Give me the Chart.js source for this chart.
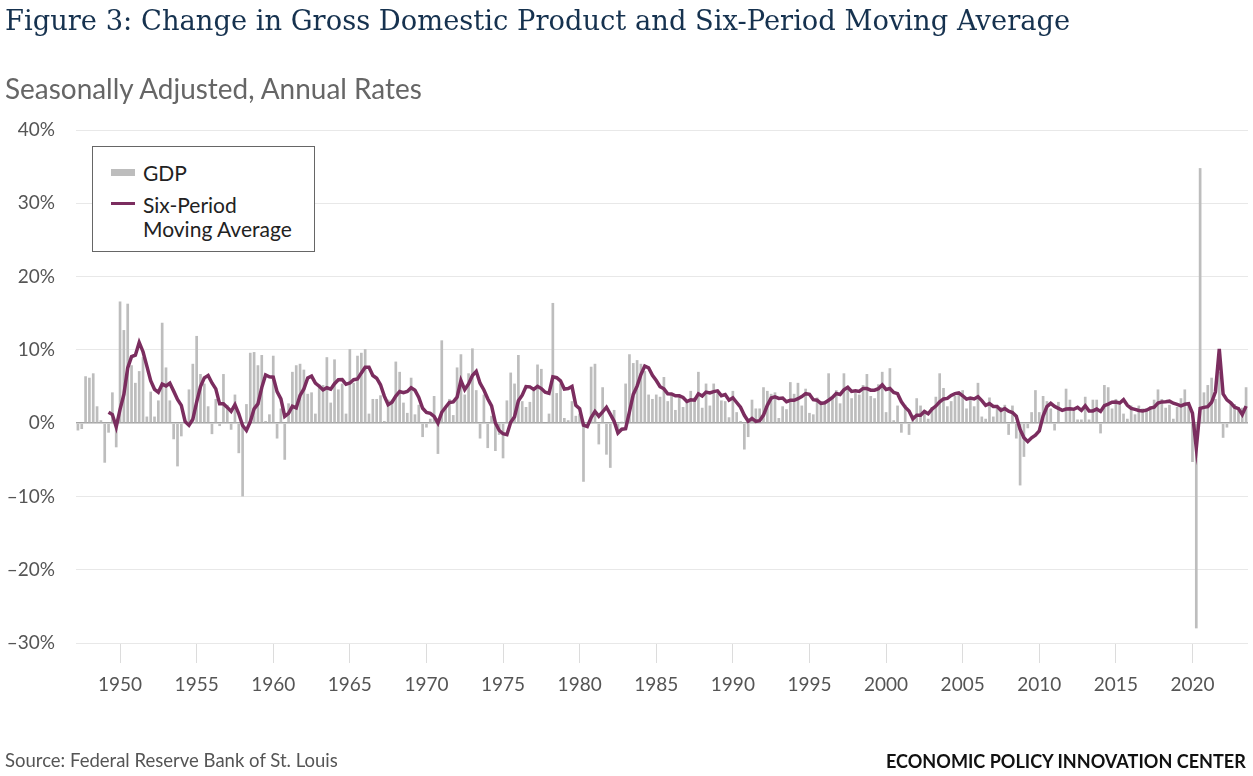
<!DOCTYPE html>
<html>
<head>
<meta charset="utf-8">
<title>Change in GDP and Six-Period Moving Average</title>
<script src="https://cdn.jsdelivr.net/npm/chart.js@4.4.0/dist/chart.umd.min.js"></script>
<style>
  html, body { margin: 0; padding: 0; background: #fff; }
  #page { position: relative; width: 1253px; height: 776px; overflow: hidden; }
  #chart { position: absolute; left: 0; top: 0; }
  .txt { position: absolute; white-space: nowrap; line-height: 1; }
  #title { font-family: "DejaVu Serif", serif; color: #16324f; font-size: 26px; left: 5px; }
  #subtitle { font-family: Lato, sans-serif; color: #666; font-size: 25px; left: 5px; }
  #source { font-family: Lato, sans-serif; color: #555; font-size: 19px; left: 5px; }
  #brand { font-family: Lato, sans-serif; font-weight: 700; color: #111; font-size: 20px; }
  #legend { position: absolute; left: 92px; top: 146px; width: 221px; height: 104px;
            border: 1px solid #666; background: #fff; font-family: Lato, sans-serif;
            font-size: 21px; color: #222; }
  #legend .sw { position: absolute; left: 18px; width: 24px; }
  #legend .lab { position: absolute; left: 50px; line-height: 1; }
</style>
</head>
<body>
<div id="page">
  <canvas id="chart" width="1253" height="776"></canvas>
  <div id="title" class="txt">Figure 3: Change in Gross Domestic Product and Six-Period Moving Average</div>
  <div id="subtitle" class="txt">Seasonally Adjusted, Annual Rates</div>
  <div id="legend">
    <div class="sw" style="top:22px;height:7px;background:#bdbdbd;"></div>
    <div class="lab" style="top:15px;">GDP</div>
    <div class="sw" style="top:55px;height:3px;background:#7b2d5f;"></div>
    <div class="lab" style="top:47px;">Six-Period</div>
    <div class="lab" style="top:71px;">Moving Average</div>
  </div>
  <div id="source" class="txt">Source: Federal Reserve Bank of St. Louis</div>
  <div id="brand" class="txt">ECONOMIC POLICY INNOVATION CENTER</div>
</div>

<script>
// Real GDP, percent change from preceding quarter, annual rate (1947 Q2 - 2023 Q3)
const gdp = [
  -1.0, -0.8, 6.4,            // 1947
  6.2, 6.8, 2.3, 0.4,         // 1948
  -5.4, -1.3, 4.2, -3.3,      // 1949
  16.6, 12.7, 16.3, 7.9,      // 1950
  5.5, 7.1, 9.0, 0.9,         // 1951
  4.3, 0.9, 3.1, 13.7,        // 1952
  7.6, 3.1, -2.2, -5.9,       // 1953
  -1.8, 0.4, 4.6, 8.1,        // 1954
  11.9, 6.7, 5.4, 2.3,        // 1955
  -1.5, 3.3, -0.4, 6.7,       // 1956
  2.5, -0.9, 3.9, -4.1,       // 1957
  -10.0, 2.6, 9.6, 9.7,       // 1958
  7.9, 9.3, 0.3, 1.2,         // 1959
  9.2, -2.1, 2.0, -5.0,       // 1960
  2.7, 7.0, 7.9, 8.1,         // 1961
  7.3, 4.0, 4.2, 1.3,         // 1962
  5.3, 5.2, 9.0, 2.8,         // 1963
  8.7, 4.6, 5.4, 1.3,         // 1964
  10.1, 5.5, 9.2, 9.6,        // 1965
  10.1, 1.3, 3.3, 3.3,        // 1966
  3.8, 0.3, 3.2, 3.2,         // 1967
  8.4, 7.0, 2.8, 1.4,         // 1968
  6.2, 1.2, 2.5, -1.9,        // 1969
  -0.6, 0.6, 3.7, -4.2,       // 1970
  11.3, 2.2, 3.3, 1.1,        // 1971
  7.6, 9.4, 3.9, 6.8,         // 1972
  10.2, 4.5, -2.1, 3.9,       // 1973
  -3.4, 1.0, -3.8, -1.6,      // 1974
  -4.8, 3.1, 6.9, 5.4,        // 1975
  9.3, 3.0, 2.2, 2.9,         // 1976
  4.8, 8.0, 7.4, 0.0,         // 1977
  1.3, 16.4, 4.1, 5.4,        // 1978
  0.7, 0.4, 3.0, 1.0,         // 1979
  1.3, -8.0, -0.5, 7.7,       // 1980
  8.1, -2.9, 4.9, -4.3,       // 1981
  -6.1, 1.8, -1.5, 0.2,       // 1982
  5.4, 9.4, 8.2, 8.6,         // 1983
  8.1, 7.1, 3.9, 3.3,         // 1984
  3.9, 3.6, 6.3, 3.0,         // 1985
  3.8, 1.8, 3.9, 2.2,         // 1986
  3.0, 4.4, 3.5, 7.0,         // 1987
  2.1, 5.4, 2.4, 5.4,         // 1988
  4.1, 3.1, 3.0, 0.8,         // 1989
  4.4, 1.5, 0.3, -3.6,        // 1990
  -1.9, 3.2, 2.0, 2.0,        // 1991
  4.9, 4.4, 4.0, 4.2,         // 1992
  0.7, 2.3, 1.9, 5.6,         // 1993
  4.0, 5.5, 2.4, 4.7,         // 1994
  1.4, 1.2, 3.5, 3.0,         // 1995
  2.9, 6.8, 3.6, 4.5,         // 1996
  2.7, 6.8, 5.0, 3.4,         // 1997
  4.1, 3.9, 5.2, 6.7,         // 1998
  3.7, 3.4, 5.3, 7.0,         // 1999
  1.5, 7.5, 0.4, 2.4,         // 2000
  -1.3, 2.5, -1.6, 1.1,       // 2001
  3.4, 2.4, 1.8, 0.6,         // 2002
  2.2, 3.6, 6.8, 4.8,         // 2003
  2.3, 3.0, 3.7, 4.1,         // 2004
  4.5, 2.0, 3.2, 2.3,         // 2005
  5.5, 0.9, 0.6, 3.5,         // 2006
  0.9, 2.3, 2.2, 2.5,         // 2007
  -1.6, 2.4, -2.1, -8.5,      // 2008
  -4.6, -0.7, 1.5, 4.5,       // 2009
  1.5, 3.7, 3.0, 2.0,         // 2010
  -1.0, 2.9, -0.1, 4.7,       // 2011
  3.2, 1.7, 0.5, 0.5,         // 2012
  3.6, 0.5, 3.2, 3.2,         // 2013
  -1.4, 5.2, 4.9, 2.0,        // 2014
  3.3, 2.5, 1.3, 0.6,         // 2015
  2.4, 1.2, 2.4, 2.0,         // 2016
  2.0, 2.3, 3.2, 4.6,         // 2017
  3.3, 2.1, 2.5, 0.6,         // 2018
  2.2, 3.4, 4.6, 2.6,         // 2019
  -5.3, -28.0, 34.8, 4.2,     // 2020
  5.2, 6.2, 3.3, 7.0,         // 2021
  -2.0, -0.6, 2.7, 2.6,       // 2022
  2.2, 2.1, 4.9               // 2023
];

// Six-period moving average line
const movingAvg = [
  null, null, null,                // 1947
  null, null, null, null,          // 1948
  null, 1.5, 1.17, -0.52,          // 1949
  1.87, 3.92, 7.53, 9.07,          // 1950
  9.28, 11.02, 9.75, 7.78,         // 1951
  5.78, 4.62, 4.22, 5.32,          // 1952
  5.08, 5.45, 4.37, 3.23,          // 1953
  2.42, 0.2, -0.3, 0.53,           // 1954
  2.88, 4.98, 6.18, 6.5,           // 1955
  5.48, 4.68, 2.63, 2.63,          // 1956
  2.15, 1.62, 2.52, 1.28,          // 1957
  -0.32, -1.0, 0.18, 1.95,         // 1958
  2.62, 4.85, 6.57, 6.33,          // 1959
  6.27, 4.3, 3.32, 0.93,           // 1960
  1.33, 2.3, 2.08, 3.78,           // 1961
  4.67, 6.17, 6.42, 5.47,          // 1962
  5.03, 4.55, 4.83, 4.63,          // 1963
  5.38, 5.93, 5.95, 5.3,           // 1964
  5.48, 5.93, 6.02, 6.85,          // 1965
  7.63, 7.63, 6.5, 6.13,           // 1966
  5.23, 3.68, 2.53, 2.85,          // 1967
  3.7, 4.32, 4.15, 4.33,           // 1968
  4.83, 4.5, 3.52, 2.03,           // 1969
  1.47, 1.33, 0.92, 0.02,          // 1970
  1.48, 2.17, 2.82, 2.9,           // 1971
  3.55, 5.82, 4.58, 5.35,          // 1972
  6.5, 7.07, 5.45, 4.53,           // 1973
  3.32, 2.35, 0.02, -1.0,          // 1974
  -1.45, -1.58, 0.13, 0.87,        // 1975
  3.05, 3.82, 4.98, 4.95,          // 1976
  4.6, 5.03, 4.72, 4.22,           // 1977
  4.07, 6.32, 6.2, 5.77,           // 1978
  4.65, 4.72, 5.0, 2.43,           // 1979
  1.97, -0.27, -0.47, 0.75,        // 1980
  1.6, 0.95, 1.55, 2.17,           // 1981
  1.23, 0.25, -1.35, -0.83,        // 1982
  -0.75, 1.53, 3.92, 5.05,         // 1983
  6.65, 7.8, 7.55, 6.53,           // 1984
  5.82, 4.98, 4.68, 4.0,           // 1985
  3.98, 3.73, 3.73, 3.5,           // 1986
  2.95, 3.18, 3.13, 4.0,           // 1987
  3.7, 4.23, 4.13, 4.3,            // 1988
  4.4, 3.75, 3.9, 3.13,            // 1989
  3.47, 2.82, 2.18, 1.07,          // 1990
  0.25, 0.65, 0.25, 0.33,          // 1991
  1.1, 2.43, 3.42, 3.58,           // 1992
  3.37, 3.42, 2.92, 3.12,          // 1993
  3.12, 3.33, 3.62, 4.02,          // 1994
  3.93, 3.2, 3.12, 2.7,            // 1995
  2.78, 3.13, 3.5, 4.05,           // 1996
  3.92, 4.55, 4.9, 4.33,           // 1997
  4.42, 4.32, 4.73, 4.72,          // 1998
  4.5, 4.5, 4.7, 5.22,             // 1999
  4.6, 4.73, 4.18, 4.02,           // 2000
  2.92, 2.17, 1.65, 0.58,          // 2001
  1.08, 1.08, 1.6, 1.28,           // 2002
  1.92, 2.33, 2.9, 3.3,            // 2003
  3.38, 3.78, 4.03, 4.12,          // 2004
  3.73, 3.27, 3.42, 3.3,           // 2005
  3.6, 3.07, 2.42, 2.67,           // 2006
  2.28, 2.28, 1.73, 2.0,           // 2007
  1.63, 1.45, 0.95, -0.85,         // 2008
  -1.98, -2.52, -2.0, -1.65,       // 2009
  -1.05, 0.98, 2.25, 2.7,          // 2010
  2.28, 2.02, 1.75, 1.92,          // 2011
  1.95, 1.9, 2.15, 1.75,           // 2012
  2.37, 1.67, 1.67, 1.92,          // 2013
  1.6, 2.38, 2.6, 2.85,            // 2014
  2.87, 2.75, 3.2, 2.43,           // 2015
  2.02, 1.88, 1.73, 1.65,          // 2016
  1.77, 2.05, 2.18, 2.75,          // 2017
  2.9, 2.92, 3.0, 2.72,            // 2018
  2.55, 2.35, 2.57, 2.65,          // 2019
  1.35, -3.42, 2.02, 2.15,         // 2020
  2.25, 2.85, 4.28, 10.12,         // 2021
  3.98, 3.18, 2.77, 2.17,          // 2022
  1.98, 1.17, 2.32                 // 2023
];

// Tick labels shown on the x axis
const tickYears = ['1950', '1955', '1960', '1965', '1970', '1975', '1980', '1985',
                   '1990', '1995', '2000', '2005', '2010', '2015', '2020'];
const yTicks = [-30, -20, -10, 0, 10, 20, 30, 40];

// Quarter labels for the category axis, first observation is 1947 Q2
const quarters = [];
for (let i = 0; i < gdp.length; i++) {
    const q = i + 1; // quarters after 1947 Q1
    quarters.push((1947 + Math.floor(q / 4)) + ' Q' + (q % 4 + 1));
}

// Place the html texts, fitted to the widths in the original
function place(id, width, baseline, left, right, ascent) {
    const el = document.getElementById(id);
    const base = parseFloat(getComputedStyle(el).fontSize);
    const w = el.getBoundingClientRect().width;
    const fs = base * width / w;
    el.style.fontSize = fs + 'px';
    el.style.top = (baseline - ascent * fs) + 'px';
    if (right !== null) el.style.left = (right - width) + 'px';
}
place('title', 1066, 31, 5, null, 0.86);
place('subtitle', 417, 100, 5, null, 0.88);
place('source', 333, 767, 5, null, 0.88);
place('brand', 360, 768, null, 1246, 0.88);

const purple = '#7b2d5f';
const tickFont = { family: 'Lato, sans-serif', size: 19 };

new Chart(document.getElementById('chart'), {
    type: 'bar',
    data: {
        labels: quarters,
        datasets: [
            {
                type: 'line',
                label: 'Six-Period Moving Average',
                data: movingAvg,
                borderColor: purple,
                borderWidth: 3.5,
                pointRadius: 0,
                tension: 0,
                order: 1
            },
            {
                label: 'GDP',
                data: gdp,
                backgroundColor: '#bdbdbd',
                barPercentage: 0.7,
                categoryPercentage: 1,
                order: 2
            }
        ]
    },
    options: {
        responsive: false,
        animation: false,
        layout: { padding: { top: 130, right: 5, left: 0, bottom: 0 } },
        plugins: {
            legend: { display: false },
            tooltip: { enabled: false }
        },
        scales: {
            x: {
                grid: {
                    offset: false,
                    drawOnChartArea: false,
                    drawTicks: true,
                    tickLength: 20,
                    color: '#dcdcdc'
                },
                border: { display: false },
                afterBuildTicks: (scale) => {
                    scale.ticks = scale.ticks.filter(t => {
                        const lab = quarters[t.value];
                        return lab.endsWith('Q1') && tickYears.includes(lab.slice(0, 4));
                    });
                },
                afterFit: (scale) => { scale.height = 133; },
                ticks: {
                    autoSkip: false,
                    maxRotation: 0,
                    padding: 10,
                    color: '#555',
                    font: tickFont,
                    callback: (v) => quarters[v].slice(0, 4)
                }
            },
            y: {
                min: -30,
                max: 40,
                afterBuildTicks: (scale) => {
                    scale.ticks = yTicks.map(v => ({ value: v }));
                },
                afterFit: (scale) => { scale.width = 76; },
                grid: {
                    drawTicks: false,
                    color: (ctx) => ctx.tick && ctx.tick.value === 0 ? '#a3a3a3' : '#e8e8e8',
                    lineWidth: (ctx) => ctx.tick && ctx.tick.value === 0 ? 1.5 : 1
                },
                border: { display: false },
                ticks: {
                    padding: 21,
                    color: '#555',
                    font: tickFont,
                    callback: (v) => (v < 0 ? '\u2013' + Math.abs(v) : v) + '%'
                }
            }
        }
    }
});
</script>
</body>
</html>
